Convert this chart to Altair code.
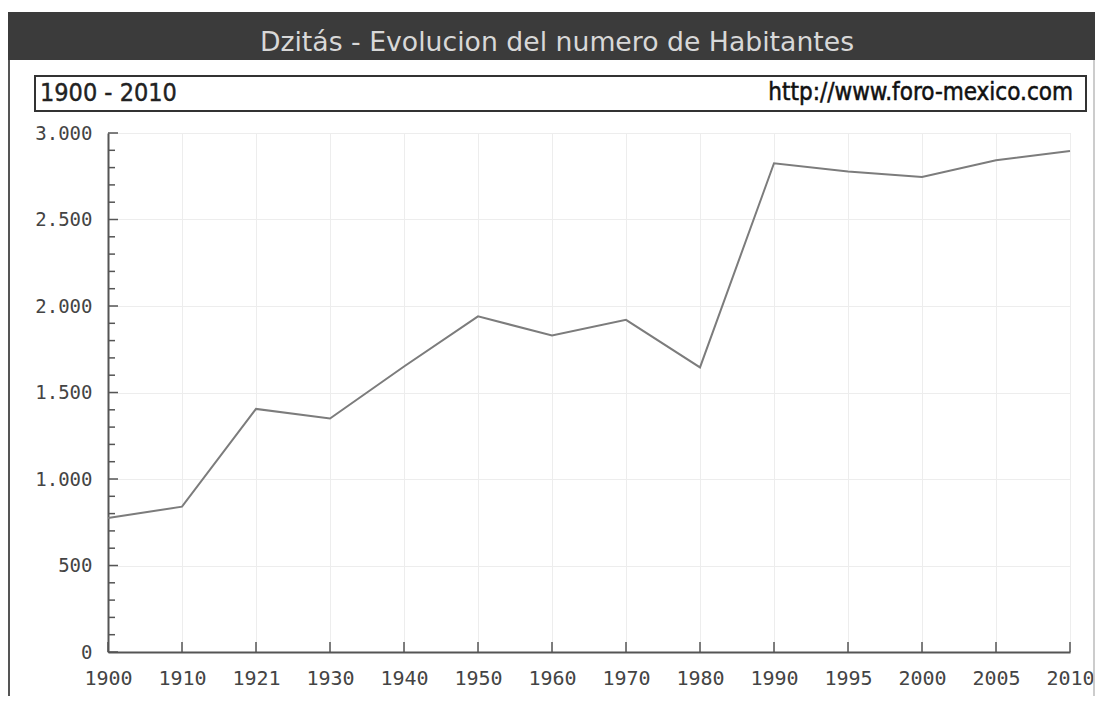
import altair as alt
import pandas as pd

# ---- data ----
years = ["1900", "1910", "1921", "1930", "1940", "1950", "1960",
         "1970", "1980", "1990", "1995", "2000", "2005", "2010"]
habitantes = [775, 840, 1405, 1350, 1650, 1940, 1830,
              1920, 1645, 2825, 2778, 2746, 2842, 2896]
y_major_ticks = [0, 500, 1000, 1500, 2000, 2500, 3000]
y_minor_ticks = [v for v in range(0, 3001, 100) if v % 500 != 0]

title_text = "Dzitás - Evolucion del numero de Habitantes"
range_text = "1900 - 2010"
url_text = "http://www.foro-mexico.com"

df = pd.DataFrame({"Año": years, "Habitantes": habitantes})
one = pd.DataFrame({"k": [0]})

W, H = 962, 519
LABEL_FONT = "DejaVu Sans Mono"

x_enc = alt.X(
    "Año:O",
    sort=years,
    scale=alt.Scale(type="point", padding=0),
    axis=alt.Axis(
        title=None, labelAngle=0, grid=True, gridColor="#ededed",
        domainColor="#555555", domainWidth=2, ticks=False,
        labelFont=LABEL_FONT, labelFontSize=20, labelColor="#444444",
        labelPadding=16,
    ),
)
y_enc = alt.Y(
    "Habitantes:Q",
    scale=alt.Scale(domain=[0, 3000], nice=False),
    axis=alt.Axis(
        title=None, values=y_major_ticks, grid=True, gridColor="#ededed",
        domainColor="#555555", domainWidth=2, ticks=False,
        labelFont=LABEL_FONT, labelFontSize=19, labelColor="#444444",
        labelPadding=16,
        labelExpr="replace(format(datum.value, ','), ',', '.')",
    ),
)

line = alt.Chart(df).mark_line(color="#7c7c7c", strokeWidth=2).encode(x=x_enc, y=y_enc)

x_ticks = alt.Chart(df).mark_rule(color="#555555", strokeWidth=1.5).encode(
    x=alt.X("Año:O", sort=years), y=alt.value(H), y2=alt.value(H - 10)
)
ymaj = alt.Chart(pd.DataFrame({"Habitantes": y_major_ticks})).mark_rule(
    color="#555555", strokeWidth=1.5
).encode(y=alt.Y("Habitantes:Q"), x=alt.value(0), x2=alt.value(10))
ymin = alt.Chart(pd.DataFrame({"Habitantes": y_minor_ticks})).mark_rule(
    color="#555555", strokeWidth=1.5
).encode(y=alt.Y("Habitantes:Q"), x=alt.value(0), x2=alt.value(7))

# ---- decoration: header bar, frame, info box ----
header = alt.Chart(one).mark_rect(color="#3b3b3b").encode(
    x=alt.value(-100), x2=alt.value(987), y=alt.value(-121), y2=alt.value(-73)
)
header_title = alt.Chart(one).mark_text(
    font="DejaVu Sans", fontSize=26.7, color="#d8d8d8", align="center", baseline="middle"
).encode(x=alt.value(449), y=alt.value(-90), text=alt.value(title_text))
frame_left = alt.Chart(one).mark_rule(color="#555555", strokeWidth=2).encode(
    x=alt.value(-99), y=alt.value(-73), y2=alt.value(600)
)
frame_right = alt.Chart(one).mark_rule(color="#bbbbbb", strokeWidth=1.5).encode(
    x=alt.value(986), y=alt.value(-73), y2=alt.value(600)
)
box = alt.Chart(one).mark_rect(fill="white", stroke="#333333", strokeWidth=2).encode(
    x=alt.value(-73), x2=alt.value(978), y=alt.value(-57), y2=alt.value(-22)
)
box_left = alt.Chart(one).mark_text(
    font="DejaVu Sans Condensed", fontSize=25, color="#222222", align="left",
    baseline="middle", stroke="#222222", strokeWidth=0.4,
).encode(x=alt.value(-68), y=alt.value(-40), text=alt.value(range_text))
box_right = alt.Chart(one).mark_text(
    font="DejaVu Sans Condensed", fontSize=24, color="#111111", align="right",
    baseline="middle", stroke="#111111", strokeWidth=0.5,
).encode(x=alt.value(965), y=alt.value(-40), text=alt.value(url_text))

chart = alt.layer(
    header, header_title, frame_left, frame_right, box, box_left, box_right,
    line, x_ticks, ymaj, ymin,
).properties(
    width=W, height=H,
    autosize=alt.AutoSizeParams(type="none"),
    padding={"left": 100, "top": 125, "right": 25, "bottom": 44},
).configure_view(stroke=None).configure(background="white")

chart.save("out.html", embed_options={"renderer": "svg", "actions": False})
